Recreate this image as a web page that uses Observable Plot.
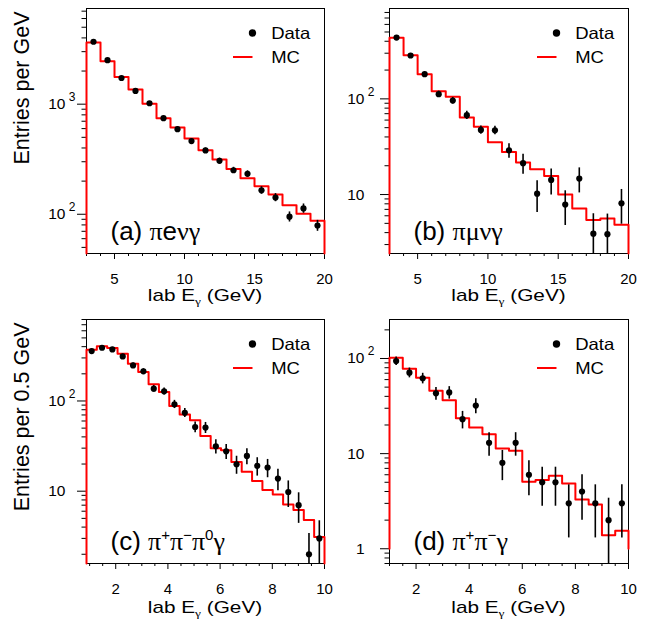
<!DOCTYPE html>
<html><head><meta charset="utf-8">
<script src="https://cdn.jsdelivr.net/npm/d3@7"></script>
<script src="https://cdn.jsdelivr.net/npm/@observablehq/plot@0.6"></script>
<style>
html,body{margin:0;padding:0;background:#fff;}
#wrap{position:relative;width:651px;height:623px;overflow:hidden;background:#fff;}
.panel{position:absolute;}
.panel svg{overflow:visible;}
</style></head><body><div id="wrap"></div>
<script>
// ---------- data ----------
// (a) pi e nu gamma : 17 bins of 1 GeV from 3 to 20
const aData = [3690, 2510, 1730, 1320, 1020, 746, 593, 462, 380, 306, 251, 233, 165, 142, 95, 113, 79];
const aErr  = [61, 50, 42, 36, 32, 27, 24, 21, 19.5, 17.5, 16, 15, 13, 12, 10, 11, 9];
const aMC   = [3640, 2460, 1770, 1360, 1007, 746, 614, 488, 382, 314, 258, 212, 180, 151, 121, 101, 87.5];
// (b) pi mu nu gamma
const bData = [437, 284, 181, 112, 96, 67.5, 47.4, 47, 29, 21.3, 10.2, 14.2, 7.85, 14.7, 3.9, 3.85, 8.1];
const bErr  = [14, 12, 9, 8.5, 7.5, 6.8, 4.8, 4.8, 5, 5, 3.7, 4.3, 3.1, 4.3, 2.4, 2.4, 3.2];
const bMC   = [435, 286, 181, 120, 105, 63.8, 51, 35.2, 27.9, 21.6, 18.4, 15.6, 10, 7.15, 5.43, 5.61, 4.82];
// (c) pi+ pi- pi0 gamma : 23 bins from 0.88 to 10
const cData = [357, 389, 373, 312, 248, 213, 137, 128, 92, 74, 51.5, 50.7, 31.5, 27.7, 19.9, 24.6, 19.1, 18.3, 13.8, 9.8, 7.0, 2.0, 3.0];
const cErr  = [18.9, 19.7, 19.3, 17.7, 15.7, 14.6, 11.7, 11.3, 9.6, 8.6, 7.1, 7.1, 5.6, 5.3, 4.5, 5, 4.4, 4.2, 3.7, 3.2, 2.6, 1.4, 1.7];
const cMC   = [370, 403, 386, 334, 259, 209, 153, 126, 88, 71, 61, 41, 30, 28.5, 21.1, 16.4, 13, 10.3, 9.2, 7.1, 6.2, 4.8, 3.1];
// (d) pi+ pi- gamma : 18 bins of 0.5 GeV from 1 to 10
const dData = [94, 71, 62, 43, 44, 23, 32, 13, 8, 13, 6, 5, 5, 3, 4, 3, 2, 3];
const dErr  = [9.7, 8.4, 7.9, 6.6, 6.6, 4.8, 5.7, 3.6, 2.8, 3.6, 2.4, 2.2, 2.2, 1.7, 2, 1.7, 1.4, 1.7];
const dMC   = [101.6, 77.8, 62.6, 45.7, 36.5, 23.6, 18.8, 16, 11.3, 10.7, 5.06, 5.27, 5.85, 4.86, 3.3, 2.92, 1.39, 1.55];

// tick labels
const xTicksAB = [5, 10, 15, 20];
const xTicksCD = [2, 4, 6, 8, 10];
const aYTicks = [100, 1000], aYBase = ["10", "10"], aYExp = ["2", "3"];
const bYTicks = [10, 100],   bYBase = ["10", "10"], bYExp = ["", "2"];
const cYTicks = [10, 100],   cYBase = ["10", "10"], cYExp = ["", "2"];
const dYTicks = [1, 10, 100], dYBase = ["1", "10", "10"], dYExp = ["", "", "2"];

// titles / labels
const legendLabels = ["Data", "MC"];
const yTitleTop = "Entries per GeV";
const yTitleBottom = "Entries per 0.5 GeV";

const FONT = "'Liberation Sans', Arial, Helvetica, sans-serif";
const GREEK = "'Liberation Serif', 'Times New Roman', serif";

const panels = [
  {left:0, top:0, width:326, height:310, ml:86, mr:2, mt:8, mb:57, xtY:48,
   xDomain:[3,20], binLo:3, binHi:20, minorStep:1, yDomain:[44,7400], floor:44,
   data:aData, err:aErr, mc:aMC, xTicks:xTicksAB, yTicks:aYTicks, yBase:aYBase, yExp:aYExp, gap:21,
   title:[["(a) ", 0, "s"], ["π", 0, "g"], ["e", 0, "s"], ["νγ", 0, "g"]], ytitle:yTitleTop},
  {left:325, top:0, width:326, height:310, ml:64, mr:23, mt:8, mb:57, xtY:48,
   xDomain:[3,20], binLo:3, binHi:20, minorStep:1, yDomain:[2.42,880], floor:2.42,
   data:bData, err:bErr, mc:bMC, xTicks:xTicksAB, yTicks:bYTicks, yBase:bYBase, yExp:bYExp, gap:25,
   title:[["(b) ", 0, "s"], ["πμνγ", 0, "g"]], ytitle:null},
  {left:0, top:310, width:326, height:313, ml:86, mr:2, mt:9, mb:60, xtY:50,
   xDomain:[0.88,10], binLo:0.88, binHi:10, minorStep:0.5, yDomain:[1.58,800], floor:1.58,
   data:cData, err:cErr, mc:cMC, xTicks:xTicksCD, yTicks:cYTicks, yBase:cYBase, yExp:cYExp, gap:21,
   title:[["(c) ", 0, "s"], ["π", 0, "g"], ["+", 1, "s"], ["π", 0, "g"], ["−", 1, "s"], ["π", 0, "g"], ["0", 1, "s"], ["γ", 0, "g"]], ytitle:yTitleBottom},
  {left:325, top:310, width:326, height:313, ml:64, mr:23, mt:9, mb:60, xtY:50,
   xDomain:[1,10], binLo:1, binHi:10, minorStep:0.5, yDomain:[0.70,257], floor:1,
   data:dData, err:dErr, mc:dMC, xTicks:xTicksCD, yTicks:dYTicks, yBase:dYBase, yExp:dYExp, gap:25,
   title:[["(d) ", 0, "s"], ["π", 0, "g"], ["+", 1, "s"], ["π", 0, "g"], ["−", 1, "s"], ["γ", 0, "g"]], ytitle:null}
];

const wrap = document.getElementById("wrap");

function buildPanel(p) {
  const n = p.data.length;
  const edges = d3.range(n + 1).map(i => p.binLo + i * (p.binHi - p.binLo) / n);
  const pts = p.data.map((v, i) => ({x: (edges[i] + edges[i + 1]) / 2, y: v, e: p.err[i]}));
  const step = [{x: edges[0], y: p.floor}];
  p.mc.forEach((v, i) => { step.push({x: edges[i], y: v}, {x: edges[i + 1], y: v}); });
  step.push({x: edges[n], y: p.floor});
  const [y0, y1] = p.yDomain;
  const yMinor = [];
  for (let e = -1; e <= 4; e++) for (let k = 2; k <= 9; k++) { const v = k * 10 ** e; if (v >= y0 && v <= y1) yMinor.push(v); }
  const xMinor = [];
  for (let v = Math.ceil(p.xDomain[0] / p.minorStep) * p.minorStep; v <= p.xDomain[1] + 1e-9; v += p.minorStep) {
    if (!p.xTicks.some(t => Math.abs(t - v) < 1e-9)) xMinor.push(v);
  }
  const idx = d3.range(p.yTicks.length);
  const expIdx = idx.filter(i => p.yExp[i]);

  const svg = Plot.plot({
    width: p.width, height: p.height,
    marginLeft: p.ml, marginRight: p.mr, marginTop: p.mt, marginBottom: p.mb,
    style: {fontFamily: FONT, fontSize: "15px", background: "transparent", overflow: "visible", color: "#000"},
    x: {domain: p.xDomain, label: null},
    y: {type: "log", domain: p.yDomain, label: null},
    marks: [
      Plot.frame({stroke: "#000", strokeWidth: 1}),
      Plot.axisX(xMinor, {tickSize: 3, tickFormat: () => "", label: null}),
      Plot.axisX(p.xTicks, {tickSize: 6, tickPadding: 14, fontSize: 15, label: null, tickFormat: d => String(d), ariaLabel: "xtl"}),
      Plot.axisY(yMinor, {tickSize: 4.5, tickFormat: () => "", label: null}),
      Plot.axisY(p.yTicks, {tickSize: 9, tickFormat: () => "", label: null}),
      Plot.text(idx, {y: i => p.yTicks[i], text: i => p.yBase[i], frameAnchor: "left", dx: -p.gap, textAnchor: "end", fontSize: 15.5, ariaLabel: "ytl"}),
      Plot.text(expIdx, {y: i => p.yTicks[i], text: i => p.yExp[i], frameAnchor: "left", dx: -p.gap + 3.3, dy: -7, textAnchor: "start", fontSize: 12, ariaLabel: "yexp"}),
      Plot.line(step, {x: "x", y: "y", stroke: "#ff0000", strokeWidth: 2}),
      Plot.ruleX(pts, {x: "x", y1: d => d.y - d.e, y2: d => d.y + d.e, stroke: "#000", strokeWidth: 1.6, clip: true}),
      Plot.dot(pts, {x: "x", y: "y", r: 3.1, fill: "#000", clip: true})
    ]
  });

  const div = document.createElement("div");
  div.className = "panel";
  div.style.left = p.left + "px";
  div.style.top = p.top + "px";
  div.style.width = p.width + "px";
  div.style.height = p.height + "px";
  div.appendChild(svg);
  wrap.appendChild(div);

  const L = p.ml, R = p.width - p.mr, T = p.mt, B = p.height - p.mb;
  const s = d3.select(svg);
  // legend
  const lg = s.append("g").attr("font-family", FONT).attr("font-size", 16.5).attr("text-anchor", "start");
  lg.append("circle").attr("cx", R - 71.5).attr("cy", T + 25).attr("r", 3.7).attr("fill", "#000");
  lg.append("text").attr("class", "stretch-leg").attr("text-anchor", "start").attr("x", R - 52.8).attr("y", T + 25).attr("dy", "0.36em").text(legendLabels[0]);
  lg.append("line").attr("x1", R - 91).attr("x2", R - 71.5).attr("y1", T + 49).attr("y2", T + 49).attr("stroke", "#ff0000").attr("stroke-width", 2);
  lg.append("text").attr("class", "stretch-leg").attr("text-anchor", "start").attr("x", R - 52.8).attr("y", T + 49).attr("dy", "0.36em").text(legendLabels[1]);

  // panel title
  const tt = s.append("text").attr("class", "stretch-title").attr("text-anchor", "start").attr("x", L + 24.5).attr("y", B - 13)
    .attr("font-family", FONT).attr("font-size", 25);
  let raised = false;
  p.title.forEach(([str, sup, fam]) => {
    const ts = tt.append("tspan").text(str).attr("font-family", fam === "g" ? GREEK : FONT);
    if (sup && !raised) { ts.attr("dy", -10).attr("font-size", 14.5); raised = true; }
    else if (sup) { ts.attr("font-size", 14.5); }
    else if (!sup && raised) { ts.attr("dy", 10); raised = false; }
  });

  // x axis title: lab E_gamma (GeV)
  const xt = s.append("text").attr("class", "stretch-axis").attr("x", (L + R) / 2).attr("y", B + p.xtY)
    .attr("text-anchor", "middle").attr("font-family", FONT).attr("font-size", 17);
  xt.append("tspan").text("lab E");
  xt.append("tspan").text("γ").attr("font-family", GREEK).attr("font-size", 11).attr("dy", 4);
  xt.append("tspan").text(" (GeV)").attr("dy", -4);

  // y axis title
  if (p.ytitle) {
    s.append("text").attr("transform", `translate(28.8,${T + 3.5}) rotate(-90)`)
      .attr("text-anchor", "end").attr("font-family", FONT).attr("font-size", 21.5).text(p.ytitle);
  }
  return svg;
}

const svgs = panels.map(buildPanel);

// horizontal stretch of text to mimic the reference's wide lettering
function stretch(el, f) {
  const len = el.getComputedTextLength();
  if (len > 0) { el.setAttribute("textLength", (len * f).toFixed(2)); el.setAttribute("lengthAdjust", "spacingAndGlyphs"); }
}
svgs.forEach(svg => {
  svg.querySelectorAll('g[aria-label="xtl"] text').forEach(t => stretch(t, 1.3));
  svg.querySelectorAll('g[aria-label="ytl"] text').forEach(t => stretch(t, 1.3));
  svg.querySelectorAll('g[aria-label="yexp"] text').forEach(t => stretch(t, 1.2));
  svg.querySelectorAll('text.stretch-leg').forEach(t => stretch(t, 1.12));
  svg.querySelectorAll('text.stretch-axis').forEach(t => stretch(t, 1.22));
  svg.querySelectorAll('text.stretch-title').forEach(t => stretch(t, 1.04));
});
</script></body></html>
